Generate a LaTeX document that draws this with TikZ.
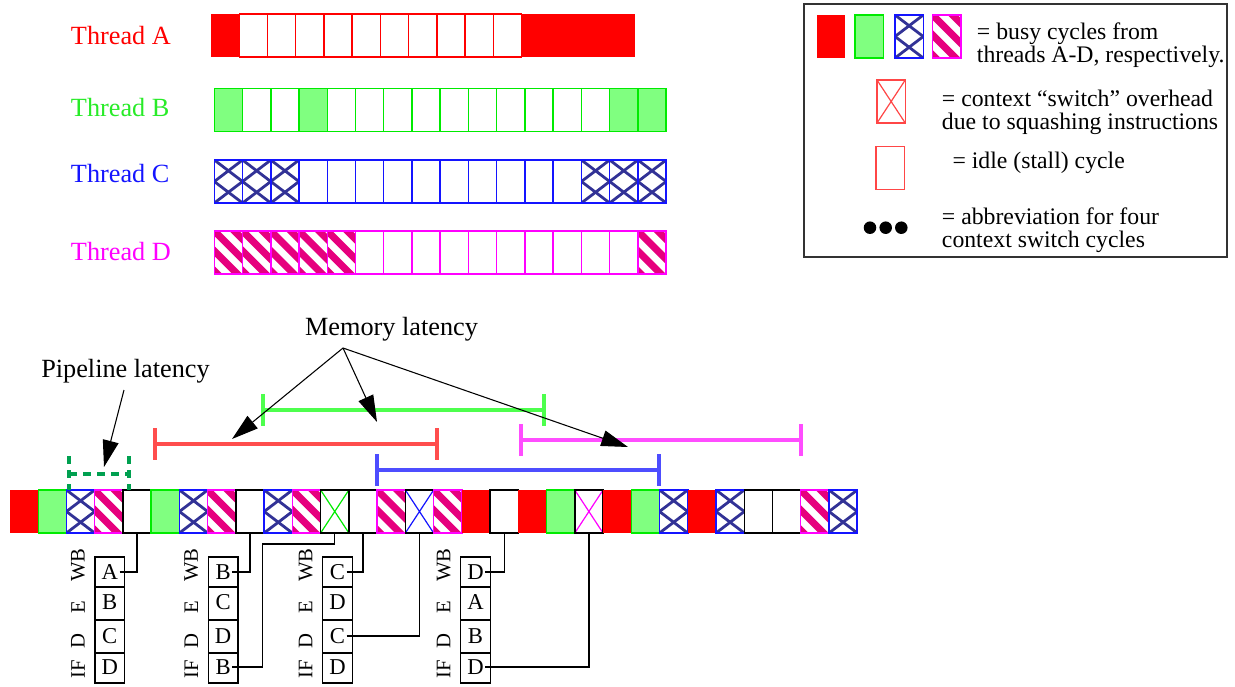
\documentclass[tikz,border=0pt]{standalone}
\usepackage{fontspec}
\setmainfont{Liberation Serif}
\usetikzlibrary{arrows.meta}
\definecolor{cred}{RGB}{255,0,0}
\definecolor{cgreen}{RGB}{0,235,0}
\definecolor{tgreen}{RGB}{40,235,40}
\definecolor{cgreenfill}{RGB}{128,255,128}
\definecolor{cblue}{RGB}{20,20,255}
\definecolor{chatch}{RGB}{50,50,150}
\definecolor{cmag}{RGB}{255,0,255}
\definecolor{cstripe}{RGB}{230,0,126}
\definecolor{lred}{RGB}{255,70,70}
\definecolor{bRed}{RGB}{255,77,77}
\definecolor{bGreen}{RGB}{77,255,77}
\definecolor{bMag}{RGB}{255,77,255}
\definecolor{bBlue}{RGB}{77,77,255}
\definecolor{pipegreen}{RGB}{0,160,80}
\def\myW{28.24}
\def\myH{43}
\tikzset{
  cellline/.style={line width=1.1pt},
  hatchline/.style={chatch, line width=2.1pt},
  stripeline/.style={cstripe, line width=5.3pt},
  thr/.style={font=\fontsize{19.7}{22}\selectfont, anchor=base west, inner sep=0pt},
  leg/.style={font=\fontsize{17.8}{20}\selectfont, anchor=base west, inner sep=0pt},
  note/.style={font=\fontsize{19.7}{22}\selectfont, anchor=base, inner sep=0pt},
  bar/.style={line width=3pt},
  conn/.style={black, line width=0.9pt},
  bigarrow/.style={black, line width=0.8pt, -{Triangle[length=20pt,width=12pt]}},
  pipedash/.style={pipegreen, line width=2.5pt, dash pattern=on 6pt off 4.5pt},
  boxline/.style={black, line width=0.9pt},
  boxletter/.style={font=\fontsize{17}{19}\selectfont, inner sep=1pt},
  stage/.style={rotate=90, font=\fontsize{15.5}{17}\selectfont, inner sep=0pt},
  legframe/.style={draw=black!80, line width=0.9pt},
}
% cell drawing macros (cell origin = top-left, y downwards)
\newcommand\drawcellr{\fill[cred] (0,0) rectangle (\myW,\myH);}
\newcommand\drawcellg{\filldraw[fill=cgreenfill, draw=cgreen, cellline] (0,0) rectangle (\myW,\myH);}
\newcommand\drawcellh{%
  \fill[white] (0,0) rectangle (\myW,\myH);
  \begin{scope}
    \clip (0,0) rectangle (\myW,\myH);
    \foreach \k in {-1,0,1,2}{%
      \draw[hatchline] ({-\myW/2},{\k*\myH/2-\myH/4}) -- ++({2*\myW},\myH);
      \draw[hatchline] ({1.5*\myW},{\k*\myH/2-\myH/4}) -- ++({-2*\myW},\myH);
    }
  \end{scope}
  \draw[cblue, cellline] (0,0) rectangle (\myW,\myH);}
\newcommand\drawcells{%
  \fill[white] (0,0) rectangle (\myW,\myH);
  \begin{scope}
    \clip (0,0) rectangle (\myW,\myH);
    \foreach \c in {-60,-40,...,40}{%
      \draw[stripeline] (\c-10,-10) -- ++(70,70);
    }
  \end{scope}
  \draw[cmag, cellline] (0,0) rectangle (\myW,\myH);}
\newcommand\idlegen[1]{\filldraw[fill=white, draw=#1, cellline] (0,0) rectangle (\myW,\myH);}
\newcommand\xcellgen[2]{%
  \fill[white] (0,0) rectangle (\myW,\myH);
  \draw[#2, line width=0.9pt] (0,0) -- (\myW,\myH) (\myW,0) -- (0,\myH);
  \draw[#1, cellline] (0,0) rectangle (\myW,\myH);}
\newcommand\drawcellw{\idlegen{black}}
\newcommand\drawcellwr{\idlegen{cred}}
\newcommand\drawcellwl{\idlegen{lred}}
\newcommand\drawcellwg{\idlegen{cgreen}}
\newcommand\drawcellwb{\idlegen{cblue}}
\newcommand\drawcellwm{\idlegen{cmag}}
\newcommand\drawcellxg{\xcellgen{black}{cgreen}}
\newcommand\drawcellxb{\xcellgen{black}{cblue}}
\newcommand\drawcellxm{\xcellgen{black}{cmag}}
\newcommand\drawcellxr{\xcellgen{lred}{lred}}
\newcommand\cellrow[3]{%
  \foreach \ct [count=\i from 0] in {#3}{%
    \begin{scope}[shift={({#1+\i*\myW},#2)}]\csname drawcell\ct\endcsname\end{scope}}}
\newcommand\onecell[3]{\begin{scope}[shift={(#2,#3)}]\csname drawcell#1\endcsname\end{scope}}
\newcommand\pipegroup[6]{%
  \draw[boxline] (#2,557) rectangle ++(29.6,126);
  \draw[boxline] (#2,587) -- ++(29.6,0) (#2,620) -- ++(29.6,0) (#2,653) -- ++(29.6,0);
  \node[boxletter] (#1wb) at ({#2+14.8},572) {#3};
  \node[boxletter] (#1e) at ({#2+14.8},602) {#4};
  \node[boxletter] (#1d) at ({#2+14.8},636) {#5};
  \node[boxletter] (#1if) at ({#2+14.8},667) {#6};
  \node[stage] (#1lwb) at ({#2-17},565) {WB};
  \node[stage] (#1le) at ({#2-17},607) {E};
  \node[stage] (#1ld) at ({#2-17},641) {D};
  \node[stage] (#1lif) at ({#2-17},669) {IF};}
\begin{document}
\begin{tikzpicture}[x=0.75pt,y=-0.75pt]
\useasboundingbox (0,0) rectangle (1235,686);
% ---- thread labels
\node[thr, text=cred] (labA) at (70.7,44.3) {Thread A};
\node[thr, text=tgreen] (labB) at (70.7,116.7) {Thread B};
\node[thr, text=cblue] (labC) at (70.7,182.7) {Thread C};
\node[thr, text=cmag] (labD) at (70.7,260) {Thread D};
% ---- thread rows
\cellrow{211}{14}{r,wr,wr,wr,wr,wr,wr,wr,wr,wr,wr,r,r,r,r}
\cellrow{214.3}{88.3}{g,wg,wg,g,wg,wg,wg,wg,wg,wg,wg,wg,wg,wg,g,g}
\cellrow{214.3}{160}{h,h,h,wb,wb,wb,wb,wb,wb,wb,wb,wb,wb,h,h,h}
\cellrow{214.3}{231}{s,s,s,s,s,wm,wm,wm,wm,wm,wm,wm,wm,wm,wm,s}
% ---- legend
\draw[legframe] (804,4) rectangle (1227,257);
\onecell{r}{816.7}{15}
\onecell{g}{855}{15}
\onecell{h}{895}{15}
\onecell{s}{932.7}{15}
\node[leg] (lg1a) at (976.7,39.3) {= busy cycles from};
\node[leg] (lg1b) at (976.7,62.7) {threads A-D, respectively.};
\onecell{xr}{877}{80}
\node[leg] (lg2a) at (941.7,106) {= context “switch” overhead};
\node[leg] (lg2b) at (941.7,129.3) {due to squashing instructions};
\onecell{wl}{876}{146.5}
\node[leg] (lg3) at (952.3,168.3) {= idle (stall) cycle};
\fill[black] (870,227.7) circle[radius=4.7pt] (885.7,227.7) circle[radius=4.7pt] (901.3,227.7) circle[radius=4.7pt];
\node[leg] (lg4a) at (941.7,224.3) {= abbreviation for four};
\node[leg] (lg4b) at (941.7,247.7) {context switch cycles};
% ---- bottom strip
\cellrow{10}{490}{r,g,h,s,w,g,h,s,w,h,s,xg,w,s,xb,s,r,w,r,g,xm,r,g,h,r,h,w,w,s,h}
\foreach \i in {0,...,29}{\coordinate (s\i) at ({10+\i*\myW+\myW/2},533);}
% ---- latency bars
\coordinate (gbL) at (263,410); \coordinate (gbR) at (544,410);
\coordinate (rbL) at (155,444); \coordinate (rbR) at (437,444);
\coordinate (mbL) at (521,440); \coordinate (mbR) at (801,440);
\coordinate (bbL) at (377,470); \coordinate (bbR) at (659,470);
\draw[bar, bGreen] (gbL) -- (gbR) (gbL) ++(0,-16) -- ++(0,32) (gbR) ++(0,-16) -- ++(0,32);
\draw[bar, bRed] (rbL) -- (rbR) (rbL) ++(0,-16) -- ++(0,32) (rbR) ++(0,-16) -- ++(0,32);
\draw[bar, bMag] (mbL) -- (mbR) (mbL) ++(0,-16) -- ++(0,32) (mbR) ++(0,-16) -- ++(0,32);
\draw[bar, bBlue] (bbL) -- (bbR) (bbL) ++(0,-16) -- ++(0,32) (bbR) ++(0,-16) -- ++(0,32);
% ---- pipeline latency marker
\draw[pipedash] (69,456) -- (69,490) (129,456) -- (129,490) (69,474) -- (129,474);
% ---- annotations
\node[note] (ml) at (391.5,335) {Memory latency};
\coordinate (mlapex) at (343,348);
\coordinate (tip1) at (232,439);
\coordinate (tip2) at (377,422);
\coordinate (tip3) at (628,447);
\draw[bigarrow] (mlapex) -- (tip1);
\draw[bigarrow] (mlapex) -- (tip2);
\draw[bigarrow] (mlapex) -- (tip3);
\node[note] (pl) at (125.5,377) {Pipeline latency};
\coordinate (plstart) at (124,390);
\coordinate (pltip) at (104,467);
\draw[bigarrow] (plstart) -- (pltip);
% ---- pipeline snapshots
\pipegroup{pa}{95}{A}{B}{C}{D}
\pipegroup{pb}{208.3}{B}{C}{D}{B}
\pipegroup{pc}{322.7}{C}{D}{C}{D}
\pipegroup{pd}{460.7}{D}{A}{B}{D}
\coordinate (jb) at (262.3,544);
\draw[conn] (pawb.east) -| (s4);
\draw[conn] (pbwb.east) -| (s8);
\draw[conn] (pbif.east) -| (jb) -| (s11);
\draw[conn] (pcwb.east) -| (s12);
\draw[conn] (pcd.east) -| (s14);
\draw[conn] (pdwb.east) -| (s17);
\draw[conn] (pdif.east) -| (s20);
\end{tikzpicture}
\end{document}
